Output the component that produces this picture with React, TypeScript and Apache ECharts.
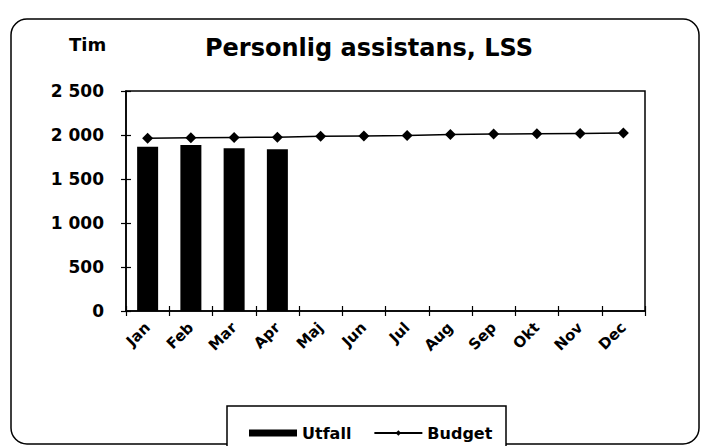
import React, { useEffect, useRef } from "react";
import * as echarts from "echarts";

const months = ["Jan", "Feb", "Mar", "Apr", "Maj", "Jun", "Jul", "Aug", "Sep", "Okt", "Nov", "Dec"];
const utfall = [1867, 1886, 1849, 1837, null, null, null, null, null, null, null, null];
const budget = [1962, 1968, 1972, 1975, 1985, 1990, 1995, 2005, 2010, 2015, 2018, 2022];
const yTicks = [0, 500, 1000, 1500, 2000, 2500];

const FONT = "'DejaVu Sans', 'Liberation Sans', Arial, sans-serif";

export default function App() {
  const ref = useRef<HTMLDivElement>(null);
  useEffect(() => {
    const chart = echarts.init(ref.current!, null, { renderer: "svg" });
    const fmt = (v: number) =>
      yTicks.includes(v) ? String(v).replace(/\B(?=(\d{3})+(?!\d))/g, " ") : "";
    chart.setOption({
      animation: false,
      backgroundColor: "#fff",
      graphic: [
        {
          type: "rect",
          shape: { x: 11, y: 19, width: 688, height: 425, r: 16 },
          style: { fill: "none", stroke: "#000", lineWidth: 1.5 },
        },
        {
          type: "text",
          left: 69,
          top: 35,
          style: { text: "Tim", font: `bold 18px ${FONT}`, fill: "#000" },
        },
        {
          type: "rect",
          shape: { x: 227, y: 406, width: 279, height: 45 },
          style: { fill: "#fff", stroke: "#000", lineWidth: 1.5 },
          z: 0,
        },
      ],
      title: {
        text: "Personlig assistans, LSS",
        left: 364,
        top: 31,
        textAlign: "center",
        textStyle: { fontFamily: FONT, fontWeight: "bold", fontSize: 24, color: "#000" },
      },
      legend: {
        top: 425,
        left: 249,
        itemGap: 22,
        itemWidth: 48,
        itemHeight: 7,
        padding: 0,
        textStyle: { fontFamily: FONT, fontWeight: "bold", fontSize: 16, color: "#000" },
        data: [{ name: "Utfall", icon: "rect" }, { name: "Budget" }],
        z: 5,
      },
      grid: {
        left: 126,
        right: 57,
        top: 91,
        bottom: 135,
        show: true,
        borderColor: "#000",
        borderWidth: 1.5,
      },
      xAxis: [
        {
          type: "category",
          data: months,
          axisLine: { lineStyle: { color: "#000", width: 1.5 } },
          axisTick: { show: true, length: 5, lineStyle: { color: "#000", width: 1.2 } },
          axisLabel: {
            rotate: 45,
            fontFamily: FONT,
            fontWeight: "bold",
            fontSize: 15,
            color: "#000",
            margin: 14,
          },
        },
        {
          type: "category",
          data: months,
          position: "bottom",
          axisLine: { show: false },
          axisTick: { show: true, inside: true, length: 5, lineStyle: { color: "#000", width: 1.2 } },
          axisLabel: { show: false },
        },
      ],
      yAxis: [
        {
          type: "value",
          min: 0,
          max: 2500,
          interval: 500,
          splitLine: { show: false },
          axisLine: { show: true, lineStyle: { color: "#000", width: 1.5 } },
          axisTick: { show: true, length: 5, lineStyle: { color: "#000", width: 1.2 } },
          axisLabel: {
            fontFamily: FONT,
            fontWeight: "bold",
            fontSize: 17,
            color: "#000",
            margin: 22,
            formatter: fmt,
          },
        },
        {
          type: "value",
          min: 0,
          max: 2500,
          interval: 500,
          position: "left",
          offset: 0,
          splitLine: { show: false },
          axisLine: { show: false },
          axisTick: { show: true, inside: true, length: 5, lineStyle: { color: "#000", width: 1.2 } },
          axisLabel: { show: false },
        },
      ],
      series: [
        {
          name: "Utfall",
          type: "bar",
          data: utfall,
          barWidth: 21,
          itemStyle: { color: "#000" },
        },
        {
          name: "Budget",
          type: "line",
          data: budget,
          symbol: "diamond",
          symbolSize: 11,
          lineStyle: { color: "#000", width: 1.5 },
          itemStyle: { color: "#000" },
        },
      ],
    });
    return () => chart.dispose();
  }, []);
  return <div ref={ref} style={{ width: 702, height: 446, position: "absolute", left: 0, top: 0 }} />;
}
